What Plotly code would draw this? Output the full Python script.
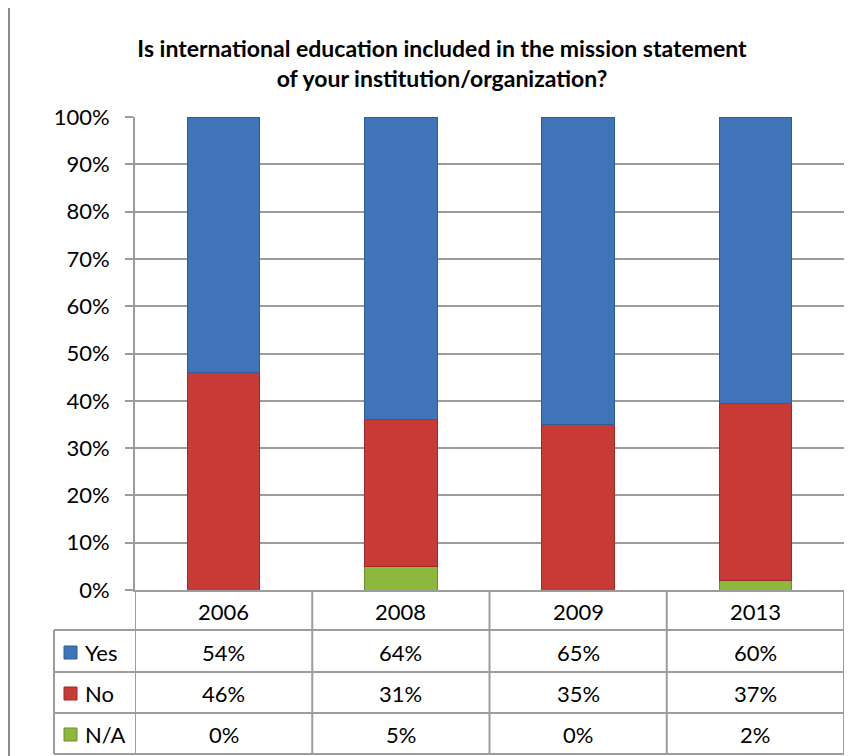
import plotly.graph_objects as go

years = ["2006", "2008", "2009", "2013"]
yes_vals = [54, 64, 65, 60]
no_vals = [46, 31, 35, 37]
na_vals = [0, 5, 0, 2]
series_names = ["Yes", "No", "N/A"]
y_tick_vals = [0, 10, 20, 30, 40, 50, 60, 70, 80, 90, 100]
y_tick_text = [f"{v}%" for v in y_tick_vals]
title_text = "<b>Is international education included in the mission statement<br>of your institution/organization?</b>"

colors = {"Yes": "#3F74B9", "No": "#C73A36", "N/A": "#8DB83E"}
edges = {"Yes": "#2E5C98", "No": "#9E2B28", "N/A": "#6C8F2B"}

OFF = 8  # page body margin of the html page
W, H = 859 - OFF, 756 - OFF
# plot area in reference pixel coordinates
RL, RR, RT, RB = 135, 844, 117, 590
L, R, T, B = RL - OFF, RR - OFF, RT - OFF, RB - OFF
FONT = "Lato"
FS = 22

def px(xp):
    return (xp - RL) / (RR - RL)

def py(yp):
    return (RB - yp) / (RB - RT)

fig = go.Figure()
data = {"Yes": yes_vals, "No": no_vals, "N/A": na_vals}
for name in ["N/A", "No", "Yes"]:
    fig.add_trace(go.Bar(
        x=list(range(len(years))), y=data[name], name=name,
        marker=dict(color=colors[name], line=dict(color=edges[name], width=1)),
        width=0.41, showlegend=False,
    ))

shapes = []
annotations = []

# page border line on the left
shapes.append(dict(type="line", xref="paper", yref="paper",
                   x0=px(9), x1=px(9), y0=py(0), y1=py(760),
                   line=dict(color="#8C8C8C", width=2)))

grid_c = "#9C9C9C"
lw = 2
row_y = [630, 672, 713, 754]
for yy in row_y:
    shapes.append(dict(type="line", xref="paper", yref="paper",
                       x0=px(54), x1=1, y0=py(yy), y1=py(yy),
                       line=dict(color=grid_c, width=lw)))
# left border of legend column
shapes.append(dict(type="line", xref="paper", yref="paper",
                   x0=px(54), x1=px(54), y0=py(630), y1=py(754),
                   line=dict(color=grid_c, width=lw)))
# column boundaries
for i in range(len(years) + 1):
    xb = i - 0.5
    shapes.append(dict(type="line", xref="x", yref="paper",
                       x0=xb, x1=xb, y0=py(590), y1=py(754),
                       line=dict(color=grid_c, width=lw)))

# header years
for i, yr in enumerate(years):
    annotations.append(dict(x=i, y=py(611), xref="x", yref="paper", text=yr,
                            xanchor="center", yanchor="middle",
                            showarrow=False, font=dict(size=FS, color="#000", family=FONT)))

row_centers = [652, 693, 734]
for r, name in enumerate(series_names):
    yc = row_centers[r]
    shapes.append(dict(type="rect", xref="paper", yref="paper",
                       x0=px(64), x1=px(77), y0=py(yc + 7), y1=py(yc - 6),
                       fillcolor=colors[name], line=dict(color=edges[name], width=1)))
    annotations.append(dict(x=px(83), y=py(yc), xref="paper", yref="paper", text=name,
                            xanchor="left", yanchor="middle", showarrow=False,
                            font=dict(size=FS, color="#000", family=FONT)))
    for i, v in enumerate(data[name]):
        annotations.append(dict(x=i, y=py(yc), xref="x", yref="paper", text=f"{v}%",
                                xanchor="center", yanchor="middle",
                                showarrow=False, font=dict(size=FS, color="#000", family=FONT)))

fig.update_layout(
    width=W, height=H,
    margin=dict(l=L, r=W - R, t=T, b=H - B, pad=0),
    paper_bgcolor="white", plot_bgcolor="white",
    barmode="stack", barnorm="percent",
    title=dict(text=title_text, x=(442 - OFF) / W, xanchor="center",
               y=1 - (57 - OFF) / H, yanchor="middle",
               font=dict(size=23, color="#000", family=FONT)),
    font=dict(family=FONT, size=FS, color="#000"),
    xaxis=dict(range=[-0.5, 3.5], showticklabels=False, showgrid=False,
               showline=True, linecolor=grid_c, linewidth=lw,
               ticks="", zeroline=False, fixedrange=True),
    yaxis=dict(range=[0, 100], tickvals=y_tick_vals, ticktext=y_tick_text,
               showgrid=True, gridcolor=grid_c, gridwidth=lw,
               showline=True, linecolor=grid_c, linewidth=lw,
               ticks="outside", ticklen=8, tickcolor=grid_c, tickwidth=lw,
               ticklabelstandoff=11,
               tickfont=dict(size=FS, color="#000", family=FONT), zeroline=False),
    shapes=shapes, annotations=annotations,
)

fig.write_html("out.html")
